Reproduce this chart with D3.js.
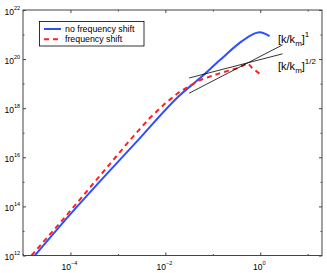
<!DOCTYPE html>
<html lang="en">
<meta charset="utf-8">
<head>
<script src="https://d3js.org/d3.v7.min.js"></script>
<style>
  body { margin: 0; background: #fff; }
  text { font-family: "Liberation Sans", Arial, sans-serif; fill: #000; }
</style>
</head>
<body>
<svg id="chart"></svg>
<script>
// data (log10 values)
var blueLogK = [-4.75, -4.08, -2.58, -1.695, -1.274, -0.85, -0.44, -0.19, -0.015, 0.196];
var blueLogE = [12, 13.51, 16.69, 18.53, 19.22, 19.96, 20.65, 20.98, 21.09, 20.94];
var redLogK = [-4.82, -4.12, -3.4, -2.75, -2.33, -2.0, -1.70, -1.28, -0.86, -0.50, -0.26, -0.16, 0.05];
var redLogE = [12, 13.55, 15.2, 16.69, 17.6, 18.2, 18.67, 19.14, 19.42, 19.62, 19.83, 19.62, 19.31];
// reference power laws through (km, Em)
var logKm = -0.26, logEm = 19.85;
var lawRange = [-1.5, 0.47];
var lawPowers = [1, 0.5];
var lawLabels = ["1", "1/2"];
var xTickExp = [-5, -4, -3, -2, -1, 0, 1];
var xLabelExp = [-4, -2, 0];
var yTickExp = [12, 13, 14, 15, 16, 17, 18, 19, 20, 21, 22];
var yLabelExp = [12, 14, 16, 18, 20, 22];
var legendNames = ["no frequency shift", "frequency shift"];

var width = 327, height = 273;
var svg = d3.select("#chart").attr("width", width).attr("height", height);

var x = d3.scaleLog().domain([1e-5, 20]).range([23, 322]);
var y = d3.scaleLog().domain([1e12, 1e22]).range([255.5, 10]);
var axisColor = "#444";

svg.append("clipPath").attr("id", "clip")
  .append("rect").attr("x", 23).attr("y", 10).attr("width", 299).attr("height", 245.5);

var plot = svg.append("g").attr("clip-path", "url(#clip)");

function pts(lk, le) {
  return lk.map(function(d, i) { return [Math.pow(10, d), Math.pow(10, le[i])]; });
}
var line = d3.line()
  .x(function(d) { return x(d[0]); })
  .y(function(d) { return y(d[1]); })
  .curve(d3.curveMonotoneX);

plot.append("path").datum(pts(blueLogK, blueLogE))
  .attr("d", line).attr("fill", "none")
  .attr("stroke", "#2d4fff").attr("stroke-width", 2);

plot.append("path").datum(pts(redLogK, redLogE))
  .attr("d", line.curve(d3.curveLinear)).attr("fill", "none")
  .attr("stroke", "#ff2020").attr("stroke-width", 2)
  .attr("stroke-dasharray", "5,4");

// power-law guide lines
lawPowers.forEach(function(p) {
  var ends = lawRange.map(function(lk) {
    return [Math.pow(10, lk), Math.pow(10, logEm + p * (lk - logKm))];
  });
  plot.append("path").datum(ends)
    .attr("d", d3.line().x(function(d) { return x(d[0]); }).y(function(d) { return y(d[1]); }))
    .attr("stroke", "#000").attr("stroke-width", 0.8).attr("fill", "none");
});

// frame
svg.append("rect").attr("x", 23).attr("y", 10).attr("width", 299).attr("height", 245.5)
  .attr("fill", "none").attr("stroke", axisColor).attr("stroke-width", 1);

function tickLen(e, labels) { return labels.indexOf(e) >= 0 ? 3 : 1.5; }

// ticks drawn with the axis generators, inward
function styleAxis(g) {
  g.select(".domain").remove();
  g.selectAll("line").attr("stroke", axisColor);
  g.selectAll("text").remove();
}
xTickExp.forEach(function(e) {
  var len = tickLen(e, xLabelExp);
  svg.append("g").attr("transform", "translate(0,255.5)")
    .call(d3.axisBottom(x).tickValues([Math.pow(10, e)]).tickSize(-len)).call(styleAxis);
  svg.append("g").attr("transform", "translate(0,10)")
    .call(d3.axisTop(x).tickValues([Math.pow(10, e)]).tickSize(-len)).call(styleAxis);
});
yTickExp.forEach(function(e) {
  var len = tickLen(e, yLabelExp);
  svg.append("g").attr("transform", "translate(23,0)")
    .call(d3.axisLeft(y).tickValues([Math.pow(10, e)]).tickSize(-len)).call(styleAxis);
  svg.append("g").attr("transform", "translate(322,0)")
    .call(d3.axisRight(y).tickValues([Math.pow(10, e)]).tickSize(-len)).call(styleAxis);
});

// tick labels 10^n
xLabelExp.forEach(function(e) {
  var t = svg.append("text").attr("x", x(Math.pow(10, e)) - 1).attr("y", 270)
    .attr("text-anchor", "middle").style("font-size", "8.5px");
  t.append("tspan").text("10");
  t.append("tspan").attr("dy", -5).style("font-size", "5.5px").text(e < 0 ? "\u2212" + (-e) : e);
});
yLabelExp.forEach(function(e) {
  var t = svg.append("text").attr("x", 20).attr("y", y(Math.pow(10, e)) + 4.5)
    .attr("text-anchor", "end").style("font-size", "8.5px");
  t.append("tspan").text("10");
  t.append("tspan").attr("dy", -5).style("font-size", "5.5px").text(e);
});

// power law labels
[43, 70].forEach(function(by, i) {
  var t = svg.append("text").attr("x", 278).attr("y", by).style("font-size", "11px");
  t.append("tspan").text("[k/k");
  t.append("tspan").attr("dy", 3).style("font-size", "8px").text("m");
  t.append("tspan").attr("dy", -3).text("]");
  t.append("tspan").attr("dy", -6).style("font-size", "8px").text(lawLabels[i]);
});

// legend
var lg = svg.append("g");
lg.append("rect").attr("x", 39.5).attr("y", 21.5).attr("width", 104.5).attr("height", 24.5)
  .attr("fill", "#fff").attr("stroke", "#000").attr("stroke-width", 0.8);
legendNames.forEach(function(name, i) {
  var ly = 29 + i * 10.3;
  lg.append("line").attr("x1", 44).attr("x2", 61).attr("y1", ly).attr("y2", ly)
    .attr("stroke", i === 0 ? "#2d4fff" : "#ff2020").attr("stroke-width", 2)
    .attr("stroke-dasharray", i === 0 ? null : "5,4");
  lg.append("text").attr("x", 65).attr("y", ly + 3).style("font-size", "8.8px").text(name);
});
</script>
</body>
</html>
